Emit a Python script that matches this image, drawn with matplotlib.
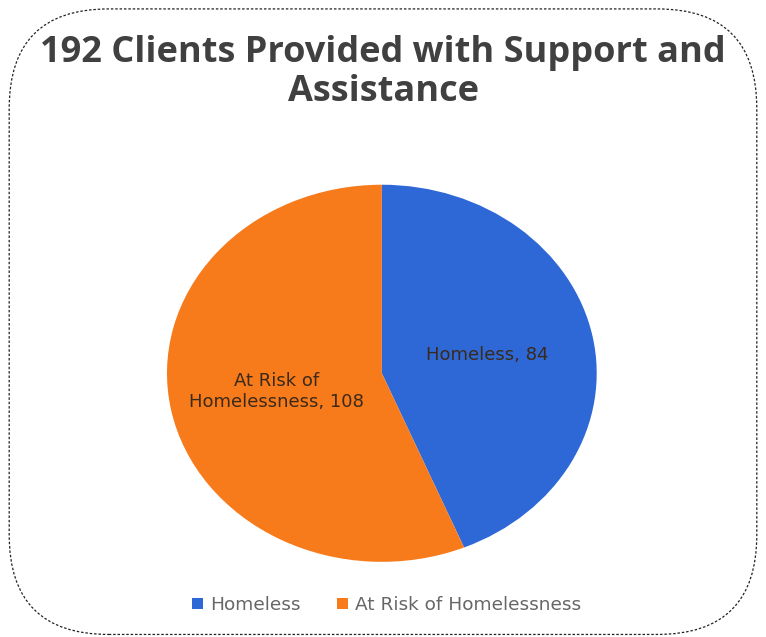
import numpy as np
import matplotlib.pyplot as plt
from matplotlib.patches import FancyBboxPatch, Patch

# Clients by housing status
categories = ['Homeless', 'At Risk of Homelessness']
label_text = ['Homeless, 84', 'At Risk of\nHomelessness, 108']
clients = [84, 108]
colors = ['#2E68D6', '#F77A1B']

plt.rcParams['font.family'] = ['Open Sans', 'DejaVu Sans']

fig = plt.figure(figsize=(7.66, 6.37), dpi=100)

# dashed rounded frame around the whole chart
frame = FancyBboxPatch((0.012, 0.004), 0.976, 0.982,
                       boxstyle='round,pad=0,rounding_size=0.13',
                       transform=fig.transFigure, fill=False,
                       edgecolor='#222222', linewidth=0.9,
                       linestyle=(0, (2, 1.5)), mutation_aspect=766 / 637)
fig.patches.append(frame)

fig.text(0.5, 0.886, '192 Clients Provided with Support and\nAssistance',
         ha='center', va='center', fontsize=26, fontweight='bold',
         color='#404040', linespacing=1.12)

ax = fig.add_axes([0.218, 0.118, 0.561, 0.592])
wedges, _ = ax.pie(clients, colors=colors, startangle=90, counterclock=False,
                   radius=1.0)
ax.set_aspect('auto')
ax.set_xlim(-1, 1)
ax.set_ylim(-1, 1)

# data labels inside each slice
for w, txt in zip(wedges, label_text):
    ang = np.deg2rad((w.theta1 + w.theta2) / 2)
    ax.text(0.5 * np.cos(ang), 0.5 * np.sin(ang), txt,
            ha='center', va='center', fontsize=13, color='#3a2a1a',
            linespacing=1.2, family='DejaVu Sans')

handles = [Patch(facecolor=c, edgecolor='none') for c in colors]
fig.legend(handles, categories, loc='center', bbox_to_anchor=(0.505, 0.05),
           ncol=2, frameon=False,
           prop={'family': 'DejaVu Sans', 'size': 13.3}, handlelength=0.55,
           handleheight=0.55, handletextpad=0.4, columnspacing=2.0,
           labelcolor='#666666')

fig.savefig('out.png', dpi=100)
